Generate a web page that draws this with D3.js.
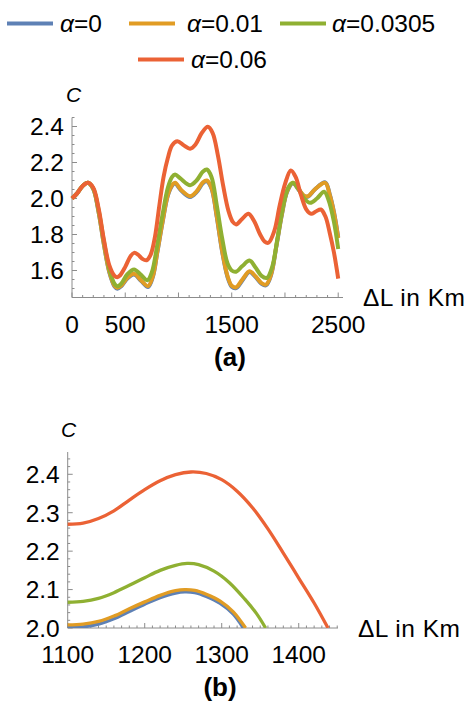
<!DOCTYPE html>
<html>
<head>
<meta charset="utf-8">
<script src="https://cdn.jsdelivr.net/npm/d3@7"></script>
<style>
  body { margin: 0; background: #fff; }
  svg { display: block; font-family: "Liberation Sans", Arial, sans-serif; }
</style>
</head>
<body>
<svg id="chart" width="466" height="703"></svg>
<script>
// ---- data ----
const ALPHAS = ["0", "0.01", "0.0305", "0.06"];
const COLORS = ["#5E81B5", "#E19C24", "#8FB032", "#EB6235"];

// panel (a): ΔL from 0 to 2500
const A_BLUE = [[0,2.000],[50,2.030],[100,2.070],[150,2.087],[200,2.052],[250,1.923],[300,1.742],[350,1.591],[400,1.511],[426,1.499],[460,1.511],[520,1.556],[583,1.578],[650,1.541],[714,1.508],[760,1.566],[800,1.696],[850,1.866],[900,2.016],[940,2.071],[968,2.083],[1030,2.041],[1109,2.008],[1170,2.035],[1230,2.085],[1266,2.095],[1310,2.055],[1360,1.895],[1410,1.705],[1460,1.565],[1500,1.510],[1541,1.502],[1600,1.545],[1667,1.592],[1720,1.566],[1780,1.526],[1823,1.518],[1870,1.576],[1920,1.736],[1970,1.906],[2020,2.036],[2074,2.084],[2130,2.048],[2180,2.013],[2218,2.011],[2280,2.050],[2378,2.090],[2420,2.025],[2460,1.925],[2500,1.785]];
const A_ORANGE = [[0,2.000],[50,2.030],[100,2.070],[150,2.087],[200,2.053],[250,1.925],[300,1.745],[350,1.595],[400,1.515],[426,1.504],[460,1.515],[520,1.560],[583,1.582],[650,1.545],[714,1.513],[760,1.570],[800,1.700],[850,1.870],[900,2.020],[940,2.075],[968,2.087],[1030,2.045],[1109,2.013],[1170,2.040],[1230,2.090],[1266,2.100],[1310,2.060],[1360,1.900],[1410,1.710],[1460,1.570],[1500,1.515],[1541,1.507],[1600,1.550],[1667,1.596],[1720,1.570],[1780,1.530],[1823,1.522],[1870,1.580],[1920,1.740],[1970,1.910],[2020,2.040],[2074,2.087],[2130,2.050],[2180,2.015],[2218,2.013],[2280,2.050],[2378,2.087],[2420,2.020],[2460,1.920],[2500,1.780]];
const A_GREEN = [[0,2.000],[50,2.030],[100,2.070],[150,2.087],[200,2.055],[250,1.935],[300,1.760],[350,1.610],[400,1.525],[426,1.513],[460,1.525],[520,1.580],[583,1.606],[640,1.580],[708,1.546],[750,1.590],[800,1.740],[850,1.910],[900,2.060],[940,2.120],[968,2.133],[1020,2.110],[1109,2.074],[1170,2.100],[1230,2.150],[1266,2.161],[1310,2.120],[1360,1.960],[1410,1.780],[1460,1.640],[1500,1.600],[1541,1.593],[1600,1.625],[1667,1.655],[1720,1.620],[1780,1.570],[1830,1.559],[1880,1.620],[1930,1.780],[1980,1.950],[2030,2.060],[2074,2.087],[2120,2.060],[2180,2.000],[2237,1.976],[2300,2.000],[2368,2.037],[2410,1.990],[2460,1.870],[2500,1.720]];
const A_RED = [[0,2.000],[50,2.030],[100,2.070],[150,2.087],[200,2.060],[250,1.945],[300,1.770],[350,1.630],[400,1.570],[425,1.563],[450,1.572],[500,1.620],[550,1.680],[583,1.698],[620,1.688],[660,1.665],[700,1.657],[740,1.690],[780,1.790],[820,1.960],[860,2.120],[900,2.225],[940,2.295],[990,2.318],[1050,2.295],[1109,2.276],[1160,2.300],[1220,2.365],[1275,2.398],[1320,2.365],[1370,2.240],[1420,2.070],[1470,1.930],[1510,1.870],[1541,1.856],[1600,1.888],[1657,1.915],[1710,1.875],[1767,1.800],[1810,1.760],[1845,1.754],[1900,1.820],[1950,1.960],[2000,2.080],[2055,2.156],[2100,2.120],[2150,2.020],[2200,1.940],[2246,1.915],[2290,1.928],[2337,1.939],[2380,1.900],[2420,1.810],[2460,1.700],[2500,1.555]];

// panel (b): zoom on 1100..1450
const B_BLUE = [[1100,2.001],[1120,2.003],[1140,2.010],[1160,2.024],[1180,2.043],[1200,2.062],[1220,2.079],[1240,2.091],[1252,2.094],[1265,2.092],[1280,2.082],[1298,2.064],[1315,2.036],[1328,2.000]];
const B_ORANGE = [[1100,2.008],[1120,2.010],[1140,2.017],[1160,2.031],[1180,2.050],[1200,2.068],[1220,2.085],[1240,2.097],[1252,2.100],[1265,2.098],[1280,2.088],[1298,2.070],[1315,2.042],[1331,2.000]];
const B_GREEN = [[1100,2.067],[1120,2.069],[1140,2.077],[1160,2.092],[1180,2.111],[1200,2.131],[1220,2.150],[1240,2.163],[1255,2.168],[1270,2.165],[1290,2.148],[1310,2.118],[1330,2.075],[1345,2.038],[1357,2.000]];
const B_RED = [[1100,2.270],[1120,2.273],[1140,2.285],[1160,2.305],[1180,2.333],[1200,2.360],[1220,2.383],[1240,2.399],[1260,2.406],[1280,2.402],[1300,2.386],[1320,2.356],[1340,2.313],[1360,2.258],[1380,2.195],[1400,2.130],[1420,2.065],[1438,2.000]];

const A_XTICK_LABELS = [0, 500, 1500, 2500];
const A_YTICK_LABELS = [1.6, 1.8, 2.0, 2.2, 2.4];
const B_XTICK_LABELS = [1100, 1200, 1300, 1400];
const B_YTICK_LABELS = [2.0, 2.1, 2.2, 2.3, 2.4];

// ---- style ----
const AXIS_COR = "#8c8c8c";
const FONT_SIZE = 24.5;

const SVG = d3.select("#chart");

/** 画图例 **/
function draw_legend() {
    const items = [
        {x: 7, y: 23.5, tx: 60, ty: 32},
        {x: 129, y: 23.5, tx: 187, ty: 32},
        {x: 280, y: 23.5, tx: 332, ty: 32},
        {x: 138, y: 59.5, tx: 191, ty: 67.5}
    ];
    ALPHAS.forEach((a, i) => {
        const it = items[i];
        SVG.append("line")
            .attr("x1", it.x).attr("x2", it.x + 46)
            .attr("y1", it.y).attr("y2", it.y)
            .attr("stroke", COLORS[i]).attr("stroke-width", 4);
        const t = SVG.append("text")
            .attr("x", it.tx).attr("y", it.ty)
            .attr("font-size", FONT_SIZE);
        t.append("tspan").attr("font-style", "italic").text("α");
        t.append("tspan").text("=" + a);
    });
}

/** 画一个面板 **/
function draw_panel(cfg) {
    const g = SVG.append("g");
    const x = d3.scaleLinear().domain(cfg.xDomain).range(cfg.xRange);
    const y = d3.scaleLinear().domain(cfg.yDomain).range(cfg.yRange);
    const x0 = cfg.xRange[0], y0 = cfg.yRange[0];

    // 坐标轴线
    g.append("line").attr("x1", x0).attr("x2", cfg.xRange[1])
        .attr("y1", y0).attr("y2", y0)
        .attr("stroke", AXIS_COR).attr("stroke-width", 1);
    g.append("line").attr("x1", x0).attr("x2", x0)
        .attr("y1", y0).attr("y2", cfg.yRange[1])
        .attr("stroke", AXIS_COR).attr("stroke-width", 1);

    // x 刻度
    d3.range(cfg.xDomain[0], cfg.xDomain[1] + 1e-9, cfg.xMinor).forEach(v => {
        const isMajor = Math.abs(v / cfg.xMajor - Math.round(v / cfg.xMajor)) < 1e-6;
        g.append("line")
            .attr("x1", x(v)).attr("x2", x(v))
            .attr("y1", y0).attr("y2", y0 - (isMajor ? 5 : 2.5))
            .attr("stroke", AXIS_COR).attr("stroke-width", 1);
    });
    // y 刻度
    const firstY = cfg.yTickStart - cfg.yMinor * Math.floor((cfg.yTickStart - cfg.yDomain[0]) / cfg.yMinor + 1e-6);
    d3.range(firstY, cfg.yDomain[1] + 1e-9, cfg.yMinor).forEach(v => {
        const k = (v - cfg.yTickStart) / cfg.yMajor;
        const isMajor = Math.abs(k - Math.round(k)) < 1e-6;
        g.append("line")
            .attr("x1", x0).attr("x2", x0 + (isMajor ? 5 : 2.5))
            .attr("y1", y(v)).attr("y2", y(v))
            .attr("stroke", AXIS_COR).attr("stroke-width", 1);
    });

    // 刻度文字
    cfg.xLabels.forEach(v => {
        g.append("text").text(v)
            .attr("x", x(v)).attr("y", cfg.xLabelY)
            .attr("text-anchor", "middle")
            .attr("font-size", FONT_SIZE);
    });
    cfg.yLabels.forEach(v => {
        g.append("text").text(v.toFixed(1))
            .attr("x", x0 - 8).attr("y", y(v))
            .attr("dy", "0.36em")
            .attr("text-anchor", "end")
            .attr("font-size", FONT_SIZE);
    });

    // 轴标题
    g.append("text").text("C")
        .attr("x", cfg.cPos[0]).attr("y", cfg.cPos[1])
        .attr("font-style", "italic")
        .attr("font-size", 21);
    g.append("text").text("ΔL in Km")
        .attr("x", cfg.xTitleX).attr("y", y0)
        .attr("dy", "0.36em")
        .attr("font-size", FONT_SIZE)
        .attr("textLength", 102)
        .attr("lengthAdjust", "spacing");
    g.append("text").text(cfg.tag)
        .attr("x", cfg.tagPos[0]).attr("y", cfg.tagPos[1])
        .attr("text-anchor", "middle")
        .attr("font-weight", "bold")
        .attr("font-size", 26);

    // 曲线
    const clipId = "clip" + cfg.tag.replace(/\W/g, "");
    SVG.append("clipPath").attr("id", clipId)
        .append("rect")
        .attr("x", x0 - 4).attr("y", cfg.yRange[1])
        .attr("width", cfg.xRange[1] - x0 + 8)
        .attr("height", y0 - cfg.yRange[1]);
    const line = d3.line()
        .x(d => x(d[0])).y(d => y(d[1]))
        .curve(d3.curveCatmullRom.alpha(0.5));
    const cg = g.append("g").attr("clip-path", `url(#${clipId})`);
    cfg.series.forEach((s, i) => {
        cg.append("path")
            .attr("d", line(s))
            .attr("fill", "none")
            .attr("stroke", COLORS[i])
            .attr("stroke-width", cfg.lineWidth)
            .attr("stroke-linejoin", "round");
    });
}

draw_legend();

draw_panel({
    tag: "(a)",
    series: [A_BLUE, A_ORANGE, A_GREEN, A_RED],
    xDomain: [0, 2545], xRange: [72, 343],
    yDomain: [1.45, 2.45], yRange: [297.5, 117.5],
    xMinor: 100, xMajor: 500,
    yMinor: 0.05, yMajor: 0.2, yTickStart: 1.6,
    xLabels: A_XTICK_LABELS, yLabels: A_YTICK_LABELS,
    xLabelY: 332.5, cPos: [66, 102], xTitleX: 363, tagPos: [230, 366],
    lineWidth: 4
});

draw_panel({
    tag: "(b)",
    series: [B_BLUE, B_ORANGE, B_GREEN, B_RED],
    xDomain: [1100, 1451], xRange: [67.7, 338],
    yDomain: [2.0, 2.458], yRange: [628, 452],
    xMinor: 10, xMajor: 100,
    yMinor: 0.02, yMajor: 0.1, yTickStart: 2.0,
    xLabels: B_XTICK_LABELS, yLabels: B_YTICK_LABELS,
    xLabelY: 662.5, cPos: [61, 437], xTitleX: 358, tagPos: [220, 696],
    lineWidth: 3.3
});
</script>
</body>
</html>
